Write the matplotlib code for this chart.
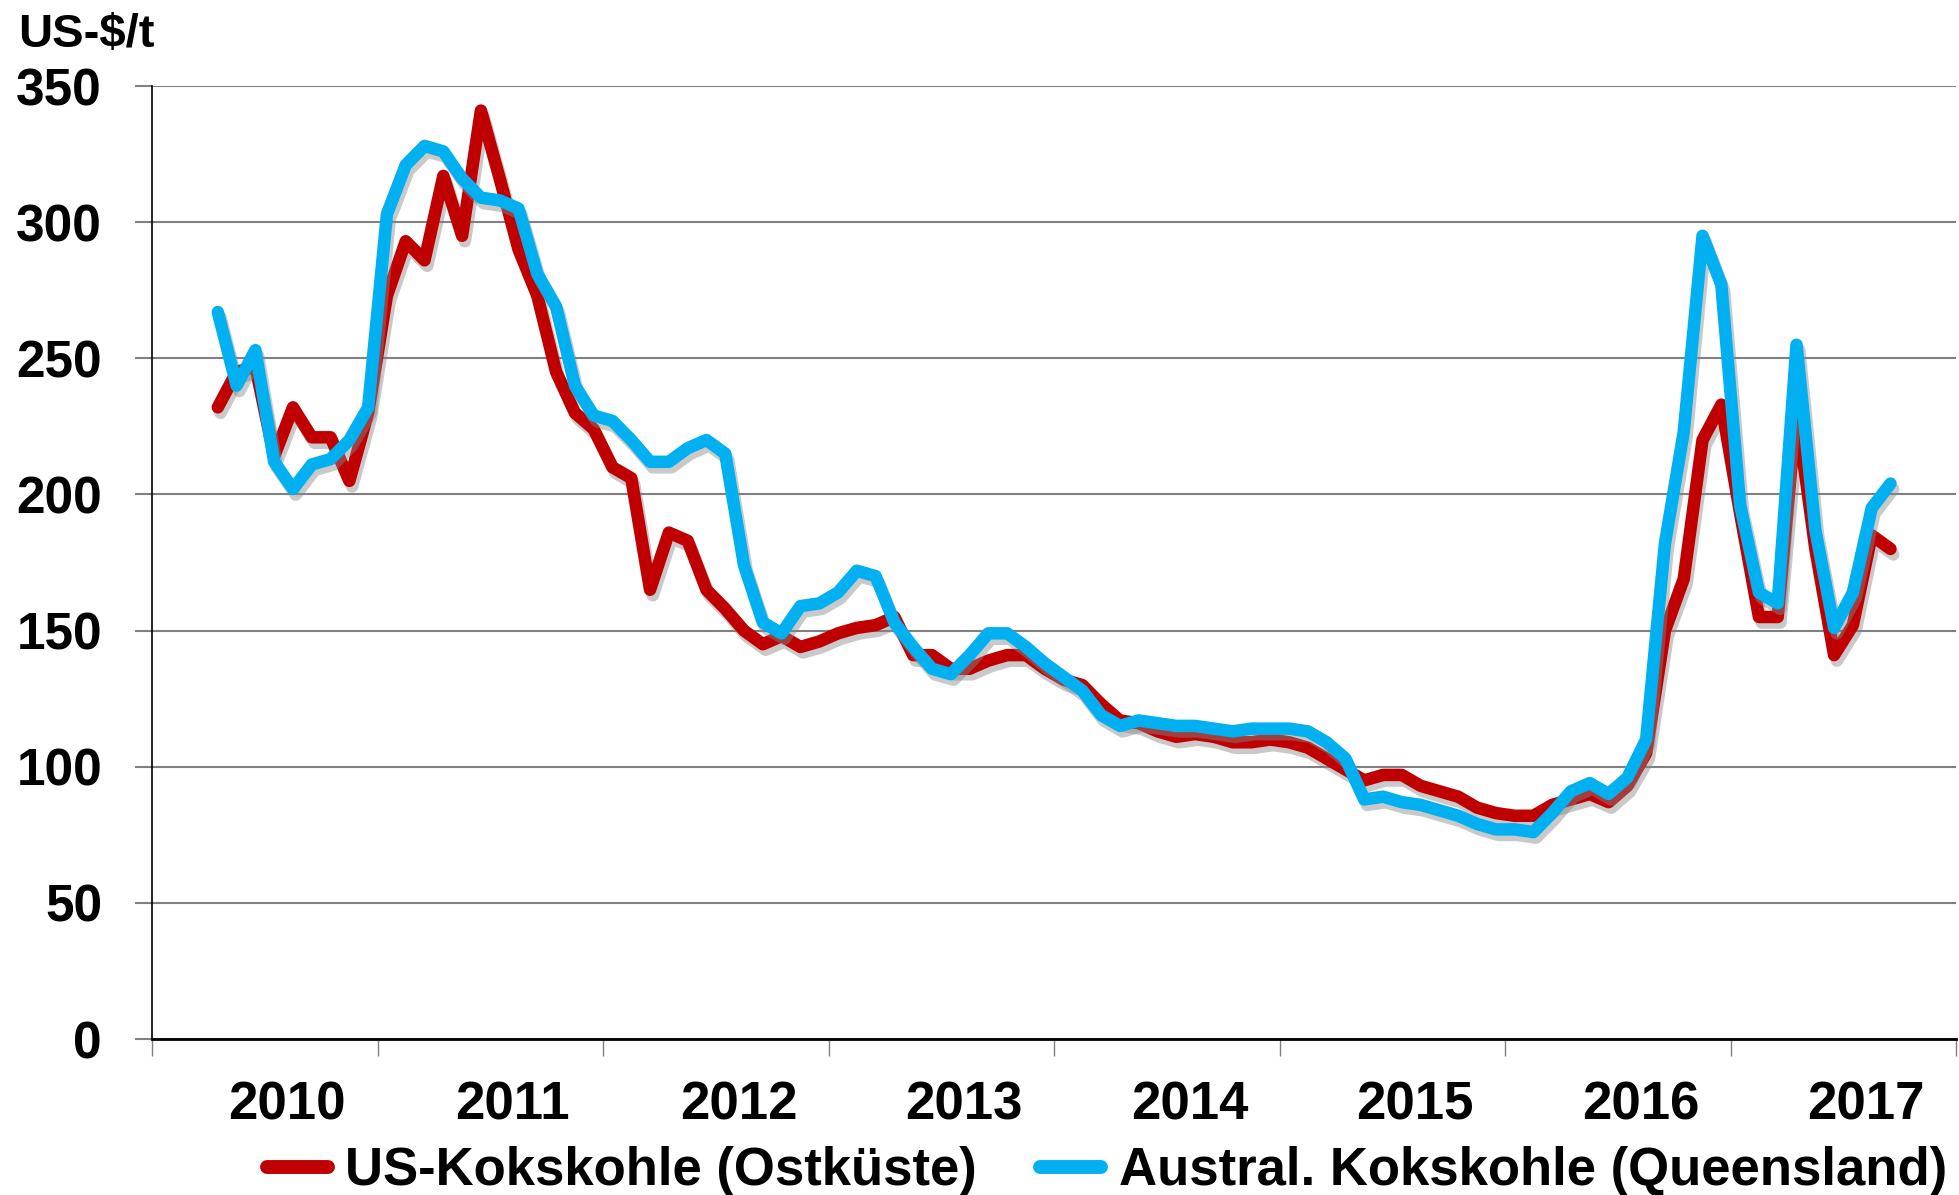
import matplotlib.pyplot as plt
import matplotlib.patheffects as pe
import numpy as np

plt.rcParams['font.family'] = ['Liberation Sans', 'DejaVu Sans']
plt.rcParams['font.weight'] = 'bold'

# monatliche Preise (US-$/t), erster Wert ca. April 2010
us_kokskohle = [232, 245, 247, 214, 232, 221, 221, 205, 230, 273, 293, 286, 317, 295, 341,
                316, 290, 273, 245, 230, 224, 210, 206, 165, 186, 183, 165, 158, 150, 145,
                148, 144, 146, 149, 151, 152, 155, 141, 141, 136, 136, 139, 141, 141, 136,
                132, 130, 123, 117, 116, 113, 111, 112, 111, 109, 109, 110, 109, 107, 103,
                99, 95, 97, 97, 93, 91, 89, 85, 83, 82, 82, 86, 88, 90, 87,
                93, 105, 150, 169, 220, 233, 193, 155, 155, 231, 180, 141, 152, 185, 180]
au_kokskohle = [267, 240, 253, 212, 202, 211, 213, 220, 232, 303, 321, 328, 326, 316, 309,
                308, 305, 281, 269, 240, 229, 227, 220, 212, 212, 217, 220, 215, 174, 153,
                149, 159, 160, 164, 172, 170, 153, 144, 136, 134, 141, 149, 149, 144, 138,
                133, 128, 119, 115, 117, 116, 115, 115, 114, 113, 114, 114, 114, 113, 109,
                103, 88, 89, 87, 86, 84, 82, 79, 77, 77, 76, 83, 91, 94, 90,
                96, 110, 182, 223, 295, 277, 196, 164, 160, 255, 187, 151, 164, 195, 204]
jahre = ['2010', '2011', '2012', '2013', '2014', '2015', '2016', '2017']
start_monat = 3  # Monate ab Jan 2010

rot = '#C00000'
blau = '#00B0F0'

x = np.arange(len(us_kokskohle)) + start_monat + 0.5

fig = plt.figure(figsize=(19.59, 11.95), dpi=100)
ax = fig.add_axes([0.0776, 0.1305, 0.921, 0.7975])

schatten = [pe.SimpleLineShadow(offset=(2, -4), shadow_color='#888888', alpha=0.45), pe.Normal()]
ax.plot(x, us_kokskohle, color=rot, lw=9, solid_joinstyle='round', solid_capstyle='round',
        label='US-Kokskohle (Ostküste)', path_effects=schatten)
ax.plot(x, au_kokskohle, color=blau, lw=9, solid_joinstyle='round', solid_capstyle='round',
        label='Austral. Kokskohle (Queensland)', path_effects=schatten)

ax.set_xlim(0, 12 * len(jahre))
ax.set_ylim(0, 350)
ax.set_yticks(np.arange(0, 351, 50))
ax.yaxis.grid(True, color='#808080', lw=1.5)
ax.set_axisbelow(True)
ax.tick_params(axis='y', length=12, width=1.5, color='#808080', pad=24, labelsize=37)

ax.set_xticks(np.arange(0, 12 * len(jahre) + 1, 12))
ax.set_xticklabels([])
ax.set_xticks(np.arange(len(jahre)) * 12 + 7.2, minor=True)
ax.set_xticklabels(jahre, minor=True)
ax.tick_params(axis='x', which='major', length=12, width=1, color='#808080')
ax.tick_params(axis='x', which='minor', length=0, pad=30, labelsize=38)

for s in ['top', 'right']:
    ax.spines[s].set_visible(False)
ax.spines['left'].set_linewidth(1.2)
ax.spines['bottom'].set_linewidth(2)

fig.text(0.009, 0.9607, 'US-$/t', fontsize=34, fontweight='bold', va='baseline')

leg = fig.legend(loc='center', bbox_to_anchor=(0.565, 0.02), ncol=2, frameon=False,
                 fontsize=38, handlelength=1.16, handletextpad=0.33, columnspacing=1.2,
                 borderpad=0, borderaxespad=0)
for h in leg.get_lines():
    h.set_linewidth(10)
    h.set_solid_capstyle('round')
    h.set_path_effects([])

fig.savefig('out.png', dpi=100)
